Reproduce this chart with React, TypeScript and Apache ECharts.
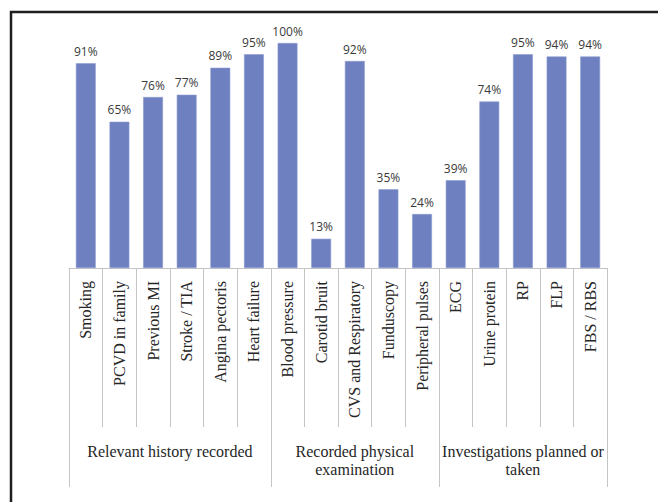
import React, { useEffect, useRef } from "react";
import * as echarts from "echarts";

const categories = [
  "Smoking",
  "PCVD in family",
  "Previous MI",
  "Stroke / TIA",
  "Angina pectoris",
  "Heart failure",
  "Blood pressure",
  "Carotid bruit",
  "CVS and Respiratory",
  "Funduscopy",
  "Peripheral pulses",
  "ECG",
  "Urine protein",
  "RP",
  "FLP",
  "FBS / RBS",
];
const values = [91, 65, 76, 77, 89, 95, 100, 13, 92, 35, 24, 39, 74, 95, 94, 94];
const groupNames = [
  "Relevant history recorded",
  "Recorded physical\nexamination",
  "Investigations planned or\ntaken",
];
const groupSizes = [6, 5, 5];

export default function App() {
  const ref = useRef<HTMLDivElement>(null);
  useEffect(() => {
    const chart = echarts.init(ref.current!, null, { renderer: "svg" });
    const option: any = {
      animation: false,
      backgroundColor: "#ffffff",
      grid: { left: 69, right: 51, top: 43, bottom: 234 },
      xAxis: {
        type: "category",
        data: categories,
        axisLine: { show: true, lineStyle: { color: "#c4c4c4", width: 1 } },
        axisTick: {
          show: true,
          alignWithLabel: false,
          length: 159,
          lineStyle: { color: "#c4c4c4", width: 1 },
        },
        axisLabel: {
          rotate: 90,
          margin: 13,
          interval: 0,
          fontFamily: "Liberation Serif",
          fontSize: 16,
          color: "#262626",
        },
      },
      yAxis: {
        type: "value",
        min: 0,
        max: 100,
        show: false,
        splitLine: { show: false },
      },
      series: [
        {
          type: "bar",
          data: values,
          barCategoryGap: "41%",
          itemStyle: { color: "#6f80c0", borderColor: "#8b9ad0", borderWidth: 0.6 },
          label: {
            show: true,
            position: "top",
            distance: 6,
            formatter: "{c}%",
            fontFamily: "Open Sans",
            fontSize: 12,
            color: "#3a3a3a",
          },
        },
      ],
    };
    chart.setOption(option);

    const x0 = chart.convertToPixel({ xAxisIndex: 0 }, 0) as number;
    const x1 = chart.convertToPixel({ xAxisIndex: 0 }, 1) as number;
    const band = x1 - x0;
    const yBase = chart.convertToPixel({ yAxisIndex: 0 }, 0) as number;
    const graphics: any[] = [
      {
        type: "rect",
        shape: { x: 11, y: 12, width: 800, height: 700 },
        style: { fill: "none", stroke: "#1e1e1e", lineWidth: 2.5 },
        silent: true,
      },
    ];
    let start = 0;
    const bounds: number[] = [0];
    groupSizes.forEach((n) => {
      start += n;
      bounds.push(start);
    });
    bounds.forEach((b) => {
      const x = Math.round(x0 + (b - 0.5) * band) + 0.5;
      graphics.push({
        type: "line",
        shape: { x1: x, y1: yBase, x2: x, y2: 487 },
        style: { stroke: "#c4c4c4", lineWidth: 1 },
        silent: true,
      });
    });
    groupNames.forEach((g, i) => {
      const cx = x0 + ((bounds[i] + bounds[i + 1]) / 2 - 0.5) * band;
      graphics.push({
        type: "text",
        x: cx,
        y: 442,
        style: {
          text: g,
          fontFamily: "Liberation Serif",
          fontSize: 16,
          fill: "#262626",
          align: "center",
          verticalAlign: "top",
          lineHeight: 18,
        },
        silent: true,
      });
    });
    chart.setOption({ graphic: graphics });
    return () => chart.dispose();
  }, []);
  return (
    <div
      ref={ref}
      style={{ position: "absolute", left: 0, top: 0, width: 658, height: 502 }}
    />
  );
}
